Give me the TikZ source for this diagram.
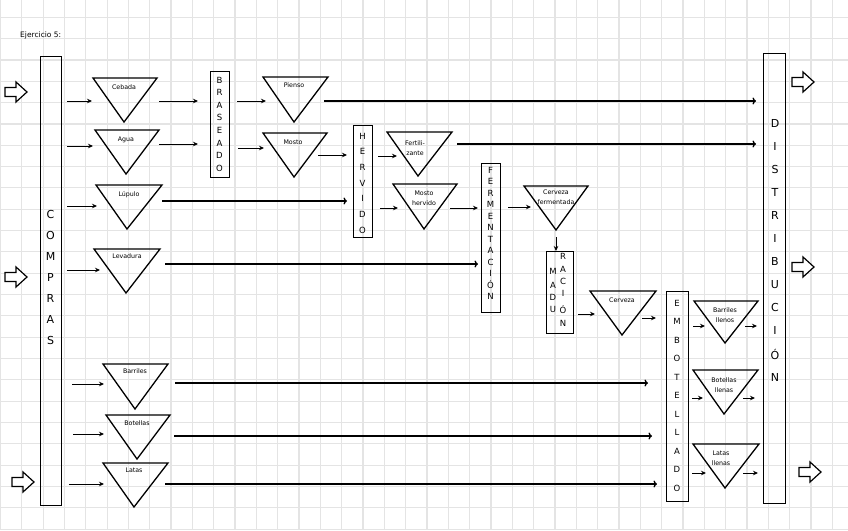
\documentclass[tikz,border=0pt]{standalone}
\usepackage{fontspec}
\setmainfont{DejaVu Sans}
\usetikzlibrary{arrows.meta}
\definecolor{gridc}{RGB}{228,228,228}
\tikzset{
  box/.style={draw, line width=1.3pt, inner sep=0, anchor=north west},
  tri/.style={draw, line width=1.3pt, line join=miter},
  lbl/.style={font=\fontsize{6.3}{10}\selectfont, inner sep=0, align=center},
  arr/.style={line width=1pt, -{Stealth[length=5pt,width=4.5pt]}},
  longarr/.style={line width=1.3pt, -{To[length=3.5pt,width=7pt]}},
  bigletter/.style={font=\fontsize{11}{11}\selectfont, inner sep=0},
  midletter/.style={font=\fontsize{8.5}{9}\selectfont, inner sep=0},
  blk/.style={draw, line width=1.2pt, line join=miter, fill=white},
}
\newcommand\tria[6]{% name, left x, right x, top y, apex x, apex y
  \draw[tri] (#2,#4) coordinate (#1-l) -- (#3,#4) coordinate (#1-r) -- (#5,#6) coordinate (#1-b) -- cycle;
}
\newcommand\blockarr[2]{%
  \draw[blk] (#1,#2-4.5) -- (#1+11,#2-4.5) -- (#1+11,#2-10) -- (#1+22,#2) -- (#1+11,#2+10) -- (#1+11,#2+4.5) -- (#1,#2+4.5) -- cycle;
}
\begin{document}
\begin{tikzpicture}[x=1pt,y=-1pt]
\useasboundingbox (0,0) rectangle (848,530);
\fill[white] (0,0) rectangle (848,530);
% grid paper
\foreach \i in {0,...,40} \draw[gridc, line width=1.1pt] ({0.4+21.33*\i},0) -- ++(0,530);
\foreach \j in {0,...,24} \draw[gridc, line width=1.1pt] (0,{17.3+21.33*\j}) -- ++(848,0);

% title
\node[anchor=west, font=\fontsize{7.5}{8}\selectfont, inner sep=0] (title) at (20,35) {Ejercicio 5:};

% boxes
\node[box, minimum width=21pt, minimum height=449pt] (compras) at (40,56) {};
\node[box, minimum width=19pt, minimum height=106pt] (braseado) at (210,71) {};
\node[box, minimum width=19pt, minimum height=112pt] (hervido) at (353,125) {};
\node[box, minimum width=19pt, minimum height=149pt] (ferment) at (481,163) {};
\node[box, minimum width=27pt, minimum height=82pt] (madur) at (546,251) {};
\node[box, minimum width=22pt, minimum height=210pt] (embot) at (666,291) {};
\node[box, minimum width=22pt, minimum height=450pt] (distrib) at (763,53) {};

% letters
\foreach \l [count=\i] in {C,O,M,P,R,A,S}
  \node[bigletter] at (50.5,{214+21*(\i-1)}) {\l};
\foreach \l [count=\i] in {B,R,A,S,E,A,D,O}
  \node[midletter] at (219.5,{80+12.6*(\i-1)}) {\l};
\foreach \l [count=\i] in {H,E,R,V,I,D,O}
  \node[midletter] at (362.5,{136+15.7*(\i-1)}) {\l};
\foreach \l [count=\i] in {F,E,R,M,E,N,T,A,C,I,Ó,N}
  \node[midletter] at (490.5,{170+11.5*(\i-1)}) {\l};
\foreach \l/\yy in {M/271,A/285,D/297,U/309}
  \node[midletter] at (553,\yy) {\l};
\foreach \l/\yy in {R/256,A/269,C/281,I/293,Ó/310,N/323}
  \node[midletter] at (563,\yy) {\l};
\foreach \l [count=\i] in {E,M,B,O,T,E,L,L,A,D,O}
  \node[midletter] at (677,{303+18.5*(\i-1)}) {\l};
\foreach \l [count=\i] in {D,I,S,T,R,I,B,U,C,I,Ó,N}
  \node[bigletter] at (775,{123+23.1*(\i-1)}) {\l};

% triangles
\tria{cebada}{93}{157}{78}{124}{122}
\tria{agua}{95}{159}{130}{126}{174}
\tria{lupulo}{96}{162}{185}{127}{229}
\tria{levadura}{94}{160}{249}{126}{293}
\tria{barriles}{103}{168}{364}{135}{409}
\tria{botellas}{106}{170}{415}{137}{459}
\tria{latas}{103}{168}{463}{134}{507}
\tria{pienso}{263}{328}{77}{294}{122}
\tria{mosto}{263}{327}{133}{294}{177}
\tria{fert}{387}{452}{132}{418}{176}
\tria{mostoh}{393}{457}{184}{424}{229}
\tria{cfer}{524}{588}{186}{556}{230}
\tria{cerveza}{590}{656}{291}{622}{335}
\tria{barrll}{694}{758}{301}{725}{343}
\tria{botll}{693}{758}{370}{724}{414}
\tria{latll}{693}{759}{444}{725}{488}

% triangle labels
\node[lbl] (tcebada) at (124,87) {Cebada};
\node[lbl] (tagua) at (126,140) {Agua};
\node[lbl] (tlupulo) at (129,195) {Lúpulo};
\node[lbl] (tlevadura) at (127,256) {Levadura};
\node[lbl] (tbarriles) at (135,371) {Barriles};
\node[lbl] (tbotellas) at (137,423) {Botellas};
\node[lbl] (tlatas) at (134,470) {Latas};
\node[lbl] (tpienso) at (294,85) {Pienso};
\node[lbl] (tmosto) at (293,142) {Mosto};
\node[lbl] (tfert) at (415,148) {Fertili-\\zante};
\node[lbl] (tmostoh) at (424,198.5) {Mosto\\hervido};
\node[lbl] (tcfer) at (556,197) {Cerveza\\fermentada};
\node[lbl] (tcerveza) at (622,300) {Cerveza};
\node[lbl] (tbarrll) at (725,315) {Barriles\\llenos};
\node[lbl] (tbotll) at (724,385) {Botellas\\llenas};
\node[lbl] (tlatll) at (721,458) {Latas\\llenas};

% block arrows
\blockarr{5}{92}
\blockarr{5}{277}
\blockarr{12}{482}
\blockarr{792}{82}
\blockarr{792}{267}
\blockarr{799}{472}

% short arrows
\foreach \xa/\xb/\yy in {67/92/101, 67/93/146, 67/97/206, 67/100/270, 72/104/384, 73/104/434, 69/104/484,
  159/198/101, 159/198/144, 237/266/101, 238/264/148, 318/347/155, 378/397/156, 380/398/208,
  450/478/208, 508/531/207, 578/595/314, 642/656/318, 693/705/326, 745/757/326,
  692/703/398, 743/755/398, 692/706/473, 743/758/473}
  \draw[arr] (\xa,\yy) -- (\xb,\yy);
\draw[arr] (cfer-b |- 0,237) -- (cfer-b |- madur.north);

% long connectors
\foreach \xa/\xb/\yy in {324/756/101, 457/756/144, 162/347/201, 165/478/264, 175/648/383, 174/652/436, 165/657/484}
  \draw[longarr] (\xa,\yy) -- (\xb,\yy);
\end{tikzpicture}
\end{document}
